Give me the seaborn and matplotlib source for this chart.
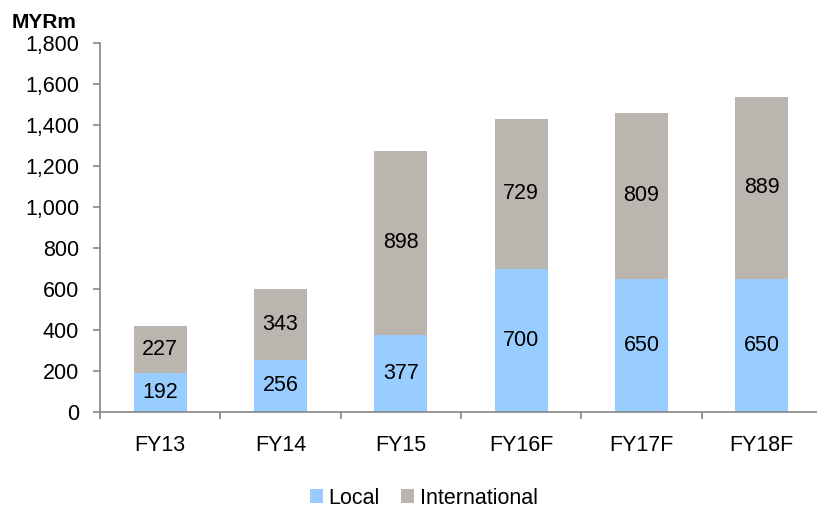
import matplotlib
matplotlib.use("Agg")
import matplotlib.pyplot as plt
import numpy as np
import pandas as pd
import seaborn as sns

years = ["FY13", "FY14", "FY15", "FY16F", "FY17F", "FY18F"]
local = [192, 256, 377, 700, 650, 650]
international = [227, 343, 898, 729, 809, 889]
yticks = [0, 200, 400, 600, 800, 1000, 1200, 1400, 1600, 1800]

sns.set_style("white")
plt.rcParams["font.family"] = ["Liberation Sans", "DejaVu Sans"]
plt.rcParams["text.color"] = "black"
plt.rcParams["xtick.color"] = "black"
plt.rcParams["ytick.color"] = "black"

df = pd.DataFrame({"year": years, "Local": local, "International": international})
df["total"] = df["Local"] + df["International"]

fig = plt.figure(figsize=(8.17, 5.08), dpi=100)
ax = fig.add_axes([100 / 817, 1 - 412 / 508, 722 / 817, (412 - 43) / 508])

c_local = "#99CCFF"
c_int = "#BAB5AE"
sns.barplot(data=df, x="year", y="total", color=c_int, width=0.44, ax=ax,
            saturation=1, label="International", linewidth=0)
sns.barplot(data=df, x="year", y="Local", color=c_local, width=0.44, ax=ax,
            saturation=1, label="Local", linewidth=0)

fs = 15.5
for i in range(len(years)):
    ax.text(i, local[i] / 2, str(local[i]), ha="center", va="center", fontsize=fs)
    ax.text(i, local[i] + international[i] / 2, str(international[i]),
            ha="center", va="center", fontsize=fs)

ax.set_ylim(0, 1800)
ax.set_yticks(yticks)
ax.set_yticklabels([f"{v:,}" for v in yticks], fontsize=fs)
ax.set_xlim(-0.5, len(years) - 0.5)
ax.tick_params(axis="x", which="major", bottom=False, labelsize=fs, pad=13)
ax.set_xticks(np.arange(-0.5, len(years), 1), minor=True)
ax.tick_params(axis="x", which="minor", bottom=True, length=5, width=1.2,
               color="#868686", direction="out")
ax.tick_params(axis="y", left=True, length=5, width=1.2, color="#868686",
               direction="out", pad=10)
ax.set_xlabel("")
ax.set_ylabel("")
for s in ["top", "right"]:
    ax.spines[s].set_visible(False)
for s in ["left", "bottom"]:
    ax.spines[s].set_color("#868686")
    ax.spines[s].set_linewidth(1.2)

fig.text(12 / 817, 1 - 22 / 508, "MYRm", fontsize=15, fontweight="bold", va="center")

handles, labels = ax.get_legend_handles_labels()
order = [labels.index("Local"), labels.index("International")]
ax.legend([handles[i] for i in order], [labels[i] for i in order],
          loc="center", bbox_to_anchor=(424 / 817, 1 - 498 / 508),
          bbox_transform=fig.transFigure, ncol=2, frameon=False, fontsize=fs,
          handlelength=0.6, handleheight=0.6, handletextpad=0.25, columnspacing=1.0)

fig.savefig("out.png", dpi=100)
